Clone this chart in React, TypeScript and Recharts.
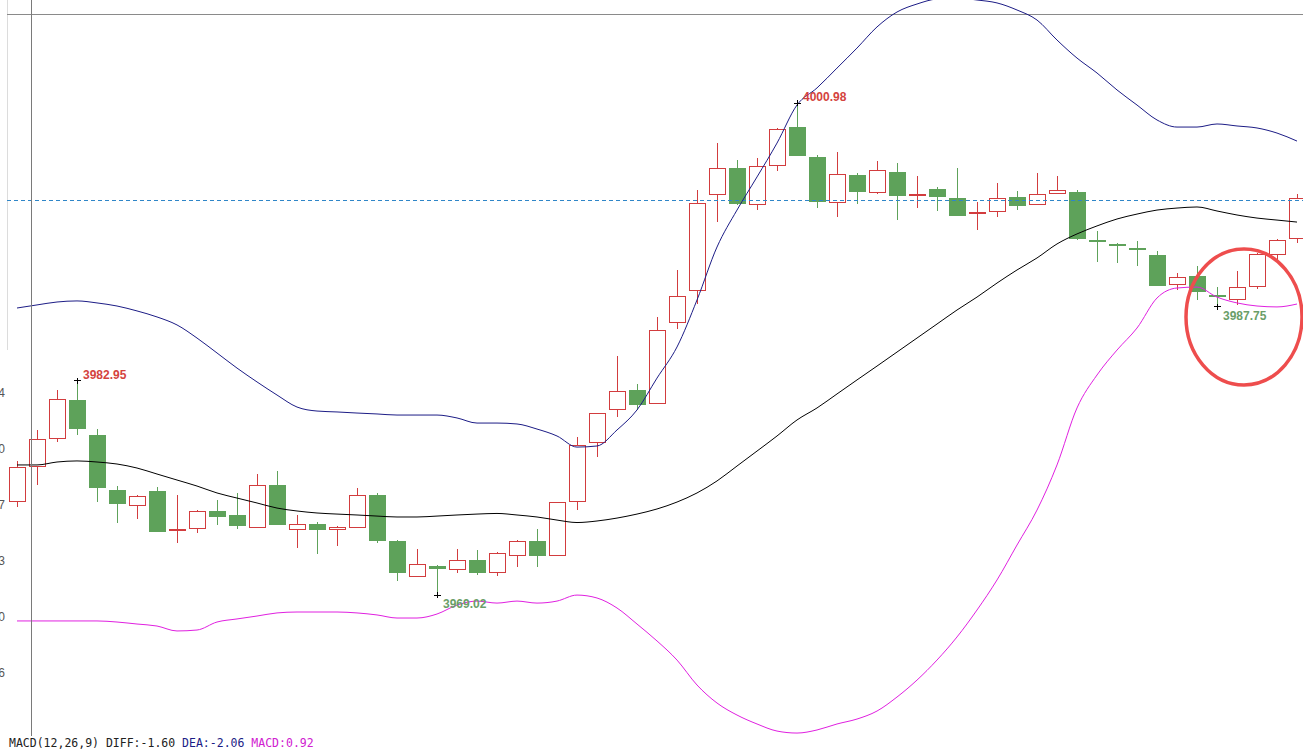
import { ComposedChart, Bar, Line, XAxis, YAxis, ReferenceLine, ReferenceDot } from 'recharts';

const opens = [
  3975.09, 3977.36, 3979.21, 3981.7, 3979.42, 3975.85, 3974.83, 3975.79, 3973.27, 3973.34,
  3974.47, 3974.23, 3973.43, 3976.18, 3973.27, 3973.64, 3973.27, 3973.43, 3975.53, 3972.54,
  3970.22, 3970.92, 3970.7, 3971.29, 3970.48, 3971.61, 3972.52, 3971.59, 3975.09, 3978.95,
  3981.09, 3982.35, 3981.48, 3986.74, 3988.82, 3995.05, 3996.74, 3994.4, 3996.94, 3999.4,
  3997.49, 3994.53, 3996.31, 3995.16, 3996.5, 3994.98, 3995.4, 3994.81, 3993.84, 3993.92,
  3994.91, 3994.4, 3995.12, 3995.2, 3992.09, 3991.83, 3991.57, 3991.11, 3989.21, 3989.75,
  3988.5, 3988.24, 3989.05, 3991.16, 3992.2,
];
const closes = [
  3977.33, 3979.14, 3981.74, 3979.83, 3976.0, 3974.94, 3975.4, 3973.14, 3973.32, 3974.47,
  3974.12, 3973.53, 3976.16, 3973.6, 3973.63, 3973.27, 3973.43, 3975.51, 3972.56, 3970.48,
  3971.03, 3970.74, 3971.29, 3970.44, 3971.74, 3972.52, 3971.59, 3975.05, 3978.75, 3980.79,
  3982.26, 3981.37, 3986.24, 3988.43, 3994.47, 3996.74, 3994.4, 3996.85, 3999.27, 3997.56,
  3994.57, 3996.37, 3995.22, 3996.61, 3994.96, 3995.02, 3994.86, 3993.66, 3993.88, 3994.79,
  3994.27, 3995.05, 3995.27, 3992.15, 3991.98, 3991.68, 3991.42, 3989.12, 3989.66, 3988.73,
  3988.36, 3989.01, 3991.16, 3992.07, 3994.79,
];
const highs = [
  3977.75, 3979.75, 3982.35, 3982.95, 3979.79, 3976.13, 3975.53, 3976.07, 3975.53, 3974.55,
  3975.2, 3975.68, 3976.89, 3977.09, 3974.23, 3973.75, 3973.53, 3975.96, 3975.64, 3972.61,
  3972.0, 3970.98, 3972.0, 3971.96, 3971.81, 3972.61, 3973.3, 3975.09, 3979.27, 3980.87,
  3984.55, 3982.74, 3987.07, 3990.14, 3995.33, 3998.4, 3997.28, 3997.39, 3999.34, 4000.98,
  3997.6, 3997.8, 3996.42, 3997.21, 3997.1, 3996.24, 3995.55, 3996.74, 3994.57, 3995.77,
  3995.27, 3996.46, 3996.24, 3995.33, 3992.67, 3991.87, 3992.02, 3991.37, 3989.92, 3990.4,
  3989.05, 3990.07, 3991.24, 3992.17, 3995.07,
];
const lows = [
  3974.73, 3976.18, 3978.99, 3979.42, 3975.09, 3973.73, 3973.97, 3973.14, 3972.39, 3973.04,
  3973.58, 3973.32, 3973.43, 3973.6, 3972.11, 3971.7, 3972.24, 3973.43, 3972.39, 3969.96,
  3970.22, 3969.02, 3970.44, 3970.33, 3970.29, 3970.83, 3970.87, 3971.59, 3974.55, 3977.97,
  3980.61, 3981.05, 3981.48, 3986.29, 3987.91, 3993.27, 3994.36, 3994.03, 3996.59, 3997.56,
  3994.18, 3993.56, 3994.4, 3995.07, 3993.38, 3994.18, 3993.97, 3993.66, 3992.74, 3993.6,
  3994.05, 3994.4, 3995.05, 3992.09, 3990.64, 3990.57, 3990.42, 3989.12, 3988.84, 3988.19,
  3987.75, 3987.87, 3988.9, 3990.79, 3991.87,
];

// bollinger bands
const upperBand = [
  3987.67, 3987.87, 3988.06, 3988.13, 3988.0, 3987.8, 3987.48, 3987.09, 3986.57, 3985.72,
  3984.75, 3983.77, 3982.87, 3982.02, 3981.24, 3980.98, 3980.92, 3980.85, 3980.79, 3980.72,
  3980.72, 3980.72, 3980.53, 3980.2, 3980.2, 3980.14, 3979.81, 3979.36, 3978.64, 3978.71,
  3979.75, 3981.05, 3983.12, 3985.14, 3988.19, 3991.63, 3994.03, 3996.18, 3998.38, 4000.85,
  4001.96, 4003.25, 4004.55, 4005.92, 4006.89, 4007.41, 4007.74, 4007.8, 4007.67, 4007.48,
  4007.02, 4006.37, 4005.07, 4003.9, 4002.93, 4001.83, 4000.85, 3999.88, 3999.42, 3999.42,
  3999.62, 3999.49, 3999.36, 3999.03, 3998.51,
];
const midBand = [
  3977.48, 3977.48, 3977.67, 3977.74, 3977.67, 3977.54, 3977.28, 3976.89, 3976.5, 3976.11,
  3975.66, 3975.33, 3975.01, 3974.68, 3974.49, 3974.36, 3974.29, 3974.23, 3974.16, 3974.1,
  3974.1, 3974.16, 3974.23, 3974.29, 3974.33, 3974.23, 3974.1, 3973.9, 3973.74, 3973.84,
  3974.03, 3974.29, 3974.62, 3975.07, 3975.66, 3976.44, 3977.41, 3978.38, 3979.36, 3980.4,
  3981.18, 3982.09, 3983.0, 3983.9, 3984.81, 3985.72, 3986.63, 3987.54, 3988.38, 3989.29,
  3990.14, 3990.92, 3991.83, 3992.48, 3993.0, 3993.45, 3993.77, 3994.03, 3994.16, 3994.23,
  3993.97, 3993.71, 3993.51, 3993.38, 3993.25,
];
const lowerBand = [
  3967.35, 3967.35, 3967.35, 3967.35, 3967.35, 3967.28, 3967.15, 3967.02, 3966.7, 3966.76,
  3967.28, 3967.48, 3967.67, 3967.87, 3967.93, 3967.93, 3967.93, 3967.87, 3967.74, 3967.54,
  3967.54, 3967.8, 3968.38, 3968.64, 3968.51, 3968.64, 3968.51, 3968.64, 3969.03, 3968.84,
  3968.19, 3967.15, 3966.05, 3964.81, 3963.19, 3962.02, 3961.24, 3960.66, 3960.2, 3960.07,
  3960.27, 3960.66, 3960.98, 3961.5, 3962.41, 3963.51, 3964.81, 3966.31, 3968.06, 3970.01,
  3972.28, 3974.55, 3977.48, 3981.18, 3983.32, 3984.94, 3986.37, 3988.32, 3988.97, 3989.03,
  3988.38, 3988.0, 3987.8, 3987.74, 3987.93,
];

const yTicks = [3963.96, 3967.6, 3971.23, 3974.87, 3978.5, 3982.14];
const lastPrice = 3994.62;
const topRule = 4006.7;

const RED = '#d23c3e';
const GREEN = '#5ea25a';

const rows = opens.map((open, i) => ({
  n: i + 1,
  open,
  close: closes[i],
  high: highs[i],
  low: lows[i],
  upper: upperBand[i],
  mid: midBand[i],
  lower: lowerBand[i],
}));

function Candle(props: any) {
  const { x, y, width, height, payload } = props;
  const { open, close, high, low } = payload;
  const cx = Math.round(x + width / 2);
  const k = height / (high - low || 1);
  const py = (v: number) => y + (high - v) * k;
  const up = close >= open;
  const top = py(Math.max(open, close));
  const bh = Math.max(py(Math.min(open, close)) - top, 1);
  return (
    <g shapeRendering="crispEdges">
      <line x1={cx + 0.5} x2={cx + 0.5} y1={y} y2={y + height} stroke={up ? RED : GREEN} />
      {up ? (
        <rect x={cx - 7.5} y={top} width={16} height={bh} fill="#fff" stroke={RED} />
      ) : (
        <rect x={cx - 8} y={top} width={17} height={bh} fill={GREEN} />
      )}
    </g>
  );
}

function Extreme(props: any) {
  const { cx, cy, label, color, below } = props;
  return (
    <g>
      <line x1={cx - 3} x2={cx + 4} y1={cy} y2={cy} stroke="#000" shapeRendering="crispEdges" />
      <line x1={cx + 0.5} x2={cx + 0.5} y1={cy - 3} y2={cy + 3} stroke="#000" shapeRendering="crispEdges" />
      <text
        x={cx + 6}
        y={below ? cy + 13 : cy - 2}
        fill={color}
        fontSize={12}
        fontWeight="bold"
        fontFamily="'Liberation Sans', Arial, sans-serif"
      >
        {label}
      </text>
    </g>
  );
}

export default function App() {
  return (
    <div
      style={{
        position: 'absolute',
        left: 0,
        top: 0,
        width: 1303,
        height: 750,
        overflow: 'hidden',
        background: '#fff',
      }}
    >
      <div style={{ position: 'absolute', left: 7, top: 0, width: 1, height: 350, background: '#dcdcdc' }} />
      <ComposedChart width={1310} height={750} data={rows} margin={{ top: 0, right: 3, bottom: 0, left: 0 }}>
        <XAxis dataKey="n" hide />
        <YAxis
          width={7}
          domain={[3958.97, 4007.67]}
          allowDataOverflow
          ticks={yTicks}
          interval={0}
          tickFormatter={(v: number) => v.toFixed(2)}
          tick={{ fontSize: 12, fill: '#555', fontFamily: "'Liberation Sans', Arial, sans-serif" }}
          tickSize={0}
          tickMargin={2}
          axisLine={false}
          tickLine={false}
        />
        <ReferenceLine y={topRule} stroke="#8a8a8a" shapeRendering="crispEdges" />
        <ReferenceLine y={lastPrice} stroke="#2f86c8" strokeDasharray="4 3" shapeRendering="crispEdges" />
        <Bar
          dataKey={(d: any) => [d.low, d.high]}
          barSize={16}
          shape={(p: any) => <Candle {...p} />}
          isAnimationActive={false}
        />
        <Line dataKey="upper" type="monotone" stroke="#1c1c86" strokeWidth={1} dot={false} activeDot={false} isAnimationActive={false} />
        <Line dataKey="mid" type="monotone" stroke="#000" strokeWidth={1} dot={false} activeDot={false} isAnimationActive={false} />
        <Line dataKey="lower" type="monotone" stroke="#e020e0" strokeWidth={1} dot={false} activeDot={false} isAnimationActive={false} />
        <ReferenceDot x={4} y={3982.95} ifOverflow="visible" shape={(p: any) => <Extreme {...p} label="3982.95" color="#d4433e" />} />
        <ReferenceDot x={40} y={4000.98} ifOverflow="visible" shape={(p: any) => <Extreme {...p} label="4000.98" color="#d4433e" />} />
        <ReferenceDot x={22} y={3969.02} ifOverflow="visible" shape={(p: any) => <Extreme {...p} label="3969.02" color="#6a9e68" below />} />
        <ReferenceDot x={61} y={3987.75} ifOverflow="visible" shape={(p: any) => <Extreme {...p} label="3987.75" color="#6a9e68" below />} />
        <ReferenceDot
          x={62}
          y={3987.09}
          ifOverflow="visible"
          shape={(p: any) => (
            <ellipse cx={p.cx + 7} cy={p.cy} rx={58} ry={68} fill="none" stroke="#ee4d4d" strokeWidth={3.5} />
          )}
        />
      </ComposedChart>
      <div style={{ position: 'absolute', left: 31, top: 0, width: 1, height: 750, background: '#7a7a7a' }} />
      <div
        style={{
          position: 'absolute',
          left: 9,
          top: 736,
          fontFamily: "'DejaVu Sans Mono', monospace",
          fontSize: 11.5,
          lineHeight: '14px',
          whiteSpace: 'pre',
          background: '#fff',
        }}
      >
        <span style={{ color: '#222' }}>MACD(12,26,9) DIFF:-1.60 </span>
        <span style={{ color: '#1c1c86' }}>DEA:-2.06 </span>
        <span style={{ color: '#d020d0' }}>MACD:0.92</span>
      </div>
    </div>
  );
}
